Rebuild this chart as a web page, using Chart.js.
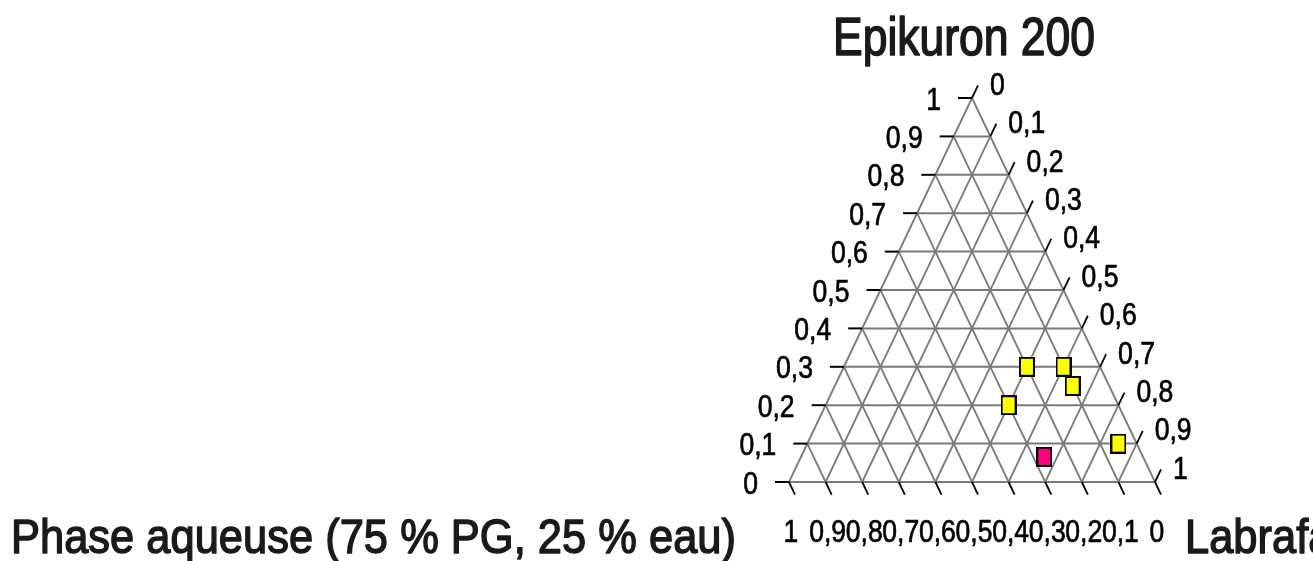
<!DOCTYPE html>
<html>
<head>
<meta charset="utf-8">
<title>Epikuron 200 - diagramme ternaire</title>
<script src="https://cdn.jsdelivr.net/npm/chart.js@4.4.1/dist/chart.umd.min.js"></script>
<style>
  html, body { margin: 0; padding: 0; background: #ffffff; overflow: hidden; }
  #wrap { position: relative; width: 1313px; height: 561px; }
</style>
</head>
<body>
<div id="wrap"><canvas id="ternary" width="1313" height="561"></canvas></div>
<script>
// Ternary diagram: Epikuron 200 (apex) / Phase aqueuse (left) / Labrafac (right)

// Tick values (fractions) and their labels, French decimal comma
const ticks = [0, 0.1, 0.2, 0.3, 0.4, 0.5, 0.6, 0.7, 0.8, 0.9, 1];
const tickLabels = ['0', '0,1', '0,2', '0,3', '0,4', '0,5', '0,6', '0,7', '0,8', '0,9', '1'];

// Yellow samples (fractions of Epikuron / Labrafac; aqueous phase is the rest)
const yellowEpikuron = [0.30, 0.30, 0.25, 0.20, 0.10];
const yellowLabrafac = [0.50, 0.60, 0.65, 0.50, 0.85];

// Pink sample
const pinkEpikuron = [0.065];
const pinkLabrafac = [0.665];

const titleText = 'Epikuron 200';
const leftCornerText = 'Phase aqueuse (75 % PG, 25 % eau)';
const rightCornerText = 'Labrafac';

// ternary (E, L) -> cartesian data coords, x in [0,1], y in [0,1]
function toXY(e, l) {
    return { x: l + e / 2, y: e };
}

// Marker image: stretched square, coloured fill + black border
function makeMarker(fill) {
    const c = document.createElement('canvas');
    c.width = 16;
    c.height = 20;
    const g = c.getContext('2d');
    g.fillStyle = '#000000';
    g.fillRect(0, 0, 16, 20);
    g.fillStyle = fill;
    g.fillRect(2, 2, 12, 16);
    return c;
}

// Grid line datasets (three families, every 0.1)
const gridColor = '#7a7a7a';
const gridSets = [];
ticks.slice(0, -1).forEach(function(t) {
    // constant Epikuron (horizontal)
    gridSets.push({ data: [toXY(t, 0), toXY(t, 1 - t)], width: 2 });
    // constant Labrafac
    gridSets.push({ data: [toXY(0, t), toXY(1 - t, t)], width: 1.8 });
    // constant aqueous phase
    gridSets.push({ data: [toXY(0, 1 - t), toXY(1 - t, 0)], width: 1.8 });
});

const datasets = [
    {
        label: 'Pink',
        data: pinkEpikuron.map(function(e, i) { return toXY(e, pinkLabrafac[i]); }),
        pointStyle: makeMarker('#ff0080'),
        showLine: false,
        clip: false,
        order: 0
    },
    {
        label: 'Yellow',
        data: yellowEpikuron.map(function(e, i) { return toXY(e, yellowLabrafac[i]); }),
        pointStyle: makeMarker('#ffff00'),
        showLine: false,
        clip: false,
        order: 0
    }
].concat(gridSets.map(function(g) {
    return {
        data: g.data,
        showLine: true,
        borderColor: gridColor,
        borderWidth: g.width,
        pointRadius: 0,
        pointHoverRadius: 0,
        fill: false,
        clip: false,
        order: 2
    };
}));

// Draw text squeezed horizontally (narrow look of the original), slightly emboldened
function drawText(ctx, str, x, y, align, font, sx, bold) {
    ctx.save();
    ctx.font = font;
    ctx.translate(x, y);
    ctx.scale(sx, 1);
    ctx.textAlign = align;
    ctx.textBaseline = 'alphabetic';
    ctx.fillText(str, 0, 0);
    if (bold) {
        ctx.lineWidth = bold;
        ctx.lineJoin = 'round';
        ctx.strokeStyle = ctx.fillStyle;
        ctx.strokeText(str, 0, 0);
    }
    ctx.restore();
}

function fitScale(ctx, str, font, width) {
    ctx.save();
    ctx.font = font;
    const w = ctx.measureText(str).width;
    ctx.restore();
    return width / w;
}

// Ticks, tick labels and corner titles
const ternaryDecor = {
    id: 'ternaryDecor',
    afterDraw(chart) {
        const ctx = chart.ctx;
        const xs = chart.scales.x;
        const ys = chart.scales.y;
        const px = function(e, l) {
            const p = toXY(e, l);
            return { x: xs.getPixelForValue(p.x), y: ys.getPixelForValue(p.y) };
        };
        const tickLen = 14;
        const unit = function(a, b) {
            const dx = b.x - a.x, dy = b.y - a.y;
            const n = Math.sqrt(dx * dx + dy * dy);
            return { x: dx / n, y: dy / n };
        };
        const upRight = unit(px(0, 0), px(1, 0));   // along left edge, upwards
        const downRight = unit(px(1, 0), px(0, 1)); // along right edge, downwards

        const tickFont = '32px "Liberation Sans", Arial, sans-serif';
        const tickSx = 0.83;

        ctx.save();
        ctx.strokeStyle = '#000000';
        ctx.fillStyle = '#000000';

        ticks.forEach(function(t, i) {
            // left axis: Epikuron
            const a = px(t, 0);
            ctx.lineWidth = 2;
            ctx.beginPath();
            ctx.moveTo(a.x - tickLen, a.y);
            ctx.lineTo(a.x, a.y);
            ctx.stroke();
            drawText(ctx, tickLabels[i], a.x - tickLen - 17, a.y + 11.5, 'right', tickFont, tickSx, 0.7);

            // right axis: Labrafac
            const b = px(1 - t, t);
            const bEnd = { x: b.x + upRight.x * tickLen, y: b.y + upRight.y * tickLen };
            ctx.lineWidth = 1.8;
            ctx.beginPath();
            ctx.moveTo(b.x, b.y);
            ctx.lineTo(bEnd.x, bEnd.y);
            ctx.stroke();
            drawText(ctx, tickLabels[i], bEnd.x + 12, bEnd.y + 9.5, 'left', tickFont, tickSx, 0.7);

            // bottom axis: aqueous phase
            const c = px(0, 1 - t);
            const cEnd = { x: c.x + downRight.x * tickLen, y: c.y + downRight.y * tickLen };
            ctx.lineWidth = 1.8;
            ctx.beginPath();
            ctx.moveTo(c.x, c.y);
            ctx.lineTo(cEnd.x, cEnd.y);
            ctx.stroke();
            drawText(ctx, tickLabels[i], c.x + 2, 542, 'center', tickFont, tickSx, 0.7);
        });

        // titles
        ctx.fillStyle = '#1a1a1a';
        const titleFont = '53px "Liberation Sans", Arial, sans-serif';
        drawText(ctx, titleText, 833, 55, 'left', titleFont, fitScale(ctx, titleText, titleFont, 262), 1.6);

        const cornerFont = '49px "Liberation Sans", Arial, sans-serif';
        const cornerSx = fitScale(ctx, leftCornerText, cornerFont, 725);
        drawText(ctx, leftCornerText, 11, 553, 'left', cornerFont, cornerSx, 1.5);
        drawText(ctx, rightCornerText, 1185, 553, 'left', cornerFont, cornerSx, 1.5);
        ctx.restore();
    }
};

const whiteBackground = {
    id: 'whiteBackground',
    beforeDraw(chart) {
        const ctx = chart.ctx;
        ctx.save();
        ctx.fillStyle = '#ffffff';
        ctx.fillRect(0, 0, chart.width, chart.height);
        ctx.restore();
    }
};

new Chart(document.getElementById('ternary'), {
    type: 'scatter',
    data: { datasets: datasets },
    options: {
        responsive: false,
        animation: false,
        events: [],
        layout: { padding: { left: 789, right: 158, top: 98, bottom: 79 } },
        scales: {
            x: { type: 'linear', min: 0, max: 1, display: false },
            y: { type: 'linear', min: 0, max: 1, display: false }
        },
        plugins: {
            legend: { display: false },
            title: { display: false },
            tooltip: { enabled: false }
        }
    },
    plugins: [whiteBackground, ternaryDecor]
});
</script>
</body>
</html>
